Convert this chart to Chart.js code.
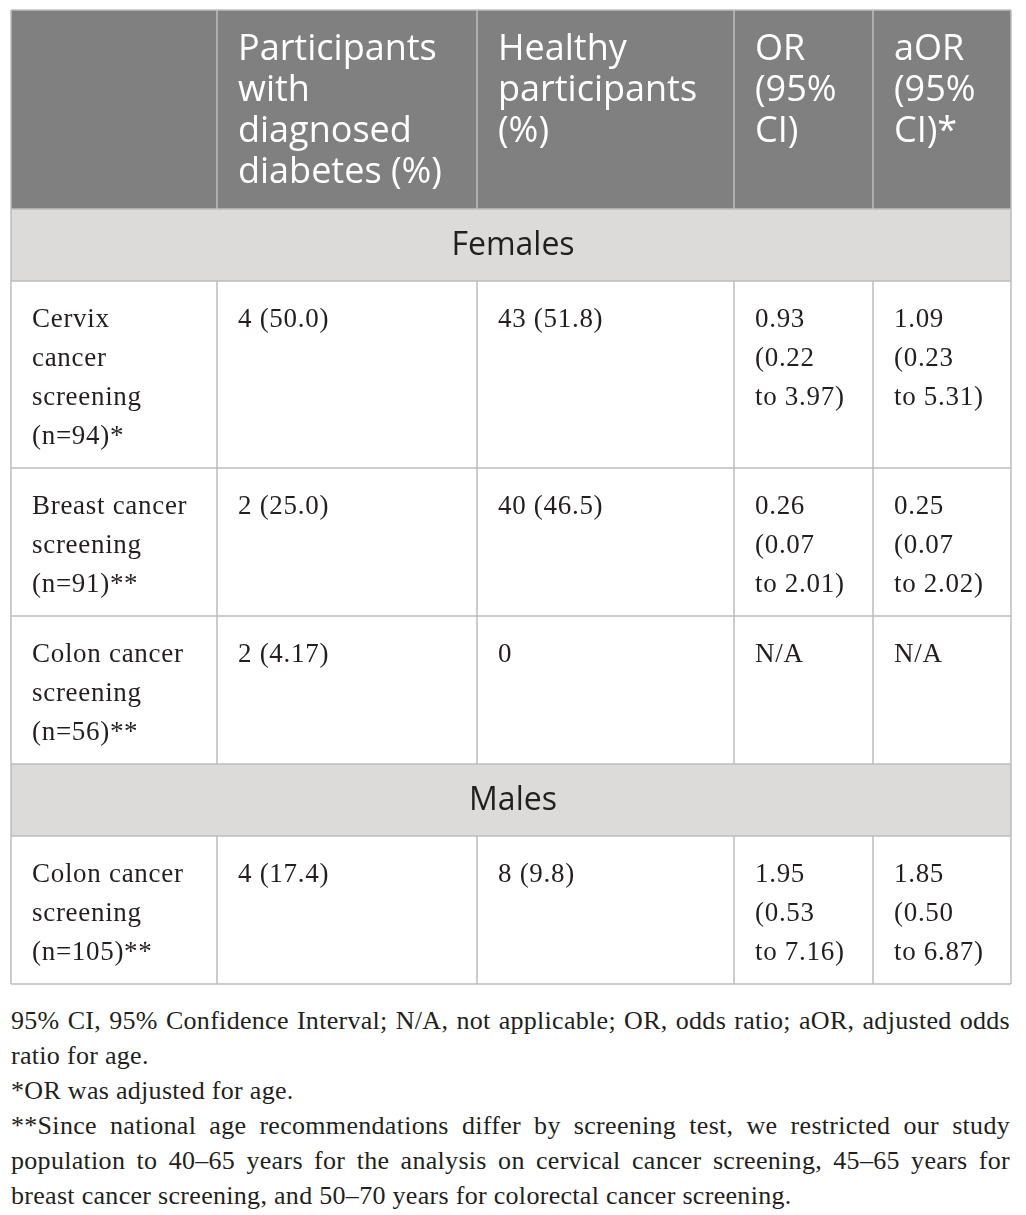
<!DOCTYPE html>
<html>
<head>
<meta charset="utf-8">
<script src="https://cdn.jsdelivr.net/npm/chart.js@4.4.0/dist/chart.umd.min.js"></script>
<style>
html, body { margin: 0; padding: 0; background: #fff; }
#wrap { position: relative; width: 1026px; height: 988px; }
#notes {
    margin: 15px 16px 0 11px;
    font-family: "Liberation Serif", serif;
    font-size: 26px;
    letter-spacing: 0.3px;
    line-height: 35px;
    text-align: justify;
    color: #231f20;
}
#notes p { margin: 0; }
</style>
</head>
<body>
<div id="wrap"><canvas id="myChart"></canvas></div>
<div id="notes">
    <p>95% CI, 95% Confidence Interval; N/A, not applicable; OR, odds ratio; aOR, adjusted odds ratio for age.</p>
    <p>*OR was adjusted for age.</p>
    <p>**Since national age recommendations differ by screening test, we restricted our study population to 40–65 years for the analysis on cervical cancer screening, 45–65 years for breast cancer screening, and 50–70 years for colorectal cancer screening.</p>
</div>
<script>
// table content
var headers = ['', 'Participants with diagnosed diabetes (%)', 'Healthy participants (%)', 'OR (95% CI)', 'aOR (95% CI)*'];
var groups = ['Females', 'Males'];
var groupOfRow = [0, 0, 0, 1];
// "\n" keeps the line break the journal used for the first label
var screenings = ['Cervix\ncancer screening', 'Breast cancer screening', 'Colon cancer screening', 'Colon cancer screening'];
var sampleN = [94, 91, 56, 105];
var footMark = ['*', '**', '**', '**'];
var diabetes = ['4 (50.0)', '2 (25.0)', '2 (4.17)', '4 (17.4)'];
var healthy = ['43 (51.8)', '40 (46.5)', '0', '8 (9.8)'];
var orValue = ['0.93', '0.26', null, '1.95'];
var orLow = ['0.22', '0.07', null, '0.53'];
var orHigh = ['3.97', '2.01', null, '7.16'];
var aorValue = ['1.09', '0.25', null, '1.85'];
var aorLow = ['0.23', '0.07', null, '0.50'];
var aorHigh = ['5.31', '2.02', null, '6.87'];

// layout
var colWidths = [206, 260, 257, 139, 138];
var colEdges = [0];
colWidths.forEach(function (w) { colEdges.push(colEdges[colEdges.length - 1] + w); });
var headFont = '36px "Open Sans"';
var groupFont = '32px "Open Sans"';
var bodyFont = '27px "Liberation Serif"';
var bodySpacing = '0.7px';
var headLine = 41, bodyLine = 39;
var padX = 21;
var labelWrap = 162;

var mctx = document.createElement('canvas').getContext('2d');

function wrap(text, font, spacing, maxW) {
    mctx.font = font;
    mctx.letterSpacing = spacing;
    var lines = [];
    text.split('\n').forEach(function (part) {
        var cur = '';
        part.split(' ').forEach(function (w) {
            var test = cur ? cur + ' ' + w : w;
            if (cur && mctx.measureText(test).width > maxW) {
                lines.push(cur);
                cur = w;
            } else {
                cur = test;
            }
        });
        if (cur) lines.push(cur);
    });
    return lines;
}

function ciLines(v, lo, hi) {
    if (v === null) return ['N/A'];
    return [v, '(' + lo, 'to ' + hi + ')'];
}

// build rows
var rows = [];
rows.push({
    kind: 'head',
    cells: headers.map(function (h, i) { return h ? wrap(h, headFont, '0px', colWidths[i] - 2 * padX) : []; })
});
var lastGroup = -1;
screenings.forEach(function (s, i) {
    if (groupOfRow[i] !== lastGroup) {
        lastGroup = groupOfRow[i];
        rows.push({ kind: 'group', text: groups[lastGroup] });
    }
    var label = s + ' (n=' + sampleN[i] + ')' + footMark[i];
    rows.push({
        kind: 'body',
        cells: [
            wrap(label, bodyFont, bodySpacing, labelWrap),
            [diabetes[i]],
            [healthy[i]],
            ciLines(orValue[i], orLow[i], orHigh[i]),
            ciLines(aorValue[i], aorLow[i], aorHigh[i])
        ]
    });
});
var tableHeight = 0;
rows.forEach(function (r) {
    if (r.kind === 'group') r.h = 72;
    else {
        var n = Math.max.apply(null, r.cells.map(function (c) { return c.length; }));
        r.h = r.kind === 'head' ? 35 + n * headLine : 31 + n * bodyLine;
    }
    r.y0 = tableHeight;
    tableHeight += r.h;
});
document.getElementById('wrap').style.height = (tableHeight + 14) + 'px';

var tablePlugin = {
    id: 'tablePlugin',
    afterDraw: function (chart) {
        var ctx = chart.ctx, xs = chart.scales.x, ys = chart.scales.y;
        var X = function (v) { return xs.getPixelForValue(v); };
        var Y = function (v) { return ys.getPixelForValue(v); };
        ctx.save();
        // backgrounds and text
        rows.forEach(function (r) {
            var top = Y(r.y0), bot = Y(r.y0 + r.h);
            if (r.kind === 'head' || r.kind === 'group') {
                ctx.fillStyle = r.kind === 'head' ? '#808080' : '#dcdbda';
                ctx.fillRect(X(0), top, X(1000) - X(0), bot - top);
            }
            if (r.kind === 'group') {
                ctx.font = groupFont;
                ctx.letterSpacing = '0px';
                ctx.fillStyle = '#231f20';
                ctx.textAlign = 'center';
                ctx.textBaseline = 'alphabetic';
                ctx.fillText(r.text, (X(0) + X(1000)) / 2 + 2, top + 46);
                return;
            }
            var head = r.kind === 'head';
            ctx.font = head ? headFont : bodyFont;
            ctx.letterSpacing = head ? '0px' : bodySpacing;
            ctx.fillStyle = head ? '#ffffff' : '#231f20';
            ctx.textAlign = 'left';
            ctx.textBaseline = 'alphabetic';
            r.cells.forEach(function (lines, ci) {
                lines.forEach(function (line, li) {
                    var y = top + (head ? 50 + li * headLine : 46 + li * bodyLine);
                    ctx.fillText(line, X(colEdges[ci]) + padX, y);
                });
            });
        });
        // grid lines
        ctx.strokeStyle = '#bdbdbd';
        ctx.lineWidth = 1.5;
        ctx.beginPath();
        rows.forEach(function (r) {
            var top = Y(r.y0), bot = Y(r.y0 + r.h);
            ctx.moveTo(X(0), top);
            ctx.lineTo(X(1000), top);
            if (r.kind !== 'group') {
                for (var i = 1; i < colEdges.length - 1; i++) {
                    ctx.moveTo(X(colEdges[i]), top);
                    ctx.lineTo(X(colEdges[i]), bot);
                }
            }
        });
        ctx.moveTo(X(0), Y(tableHeight));
        ctx.lineTo(X(1000), Y(tableHeight));
        ctx.moveTo(X(0), Y(0));
        ctx.lineTo(X(0), Y(tableHeight));
        ctx.moveTo(X(1000), Y(0));
        ctx.lineTo(X(1000), Y(tableHeight));
        ctx.stroke();
        ctx.restore();
    }
};

var ctx = document.getElementById('myChart').getContext('2d');
var myChart = new Chart(ctx, {
    type: 'scatter',
    data: { datasets: [] },
    options: {
        animation: false,
        responsive: true,
        maintainAspectRatio: false,
        layout: { padding: { left: 11, top: 10, right: 15, bottom: 4 } },
        plugins: { legend: { display: false }, tooltip: { enabled: false } },
        scales: {
            x: { type: 'linear', min: 0, max: 1000, display: false },
            y: { type: 'linear', min: 0, max: tableHeight, reverse: true, display: false }
        }
    },
    plugins: [tablePlugin]
});
</script>
</body>
</html>
